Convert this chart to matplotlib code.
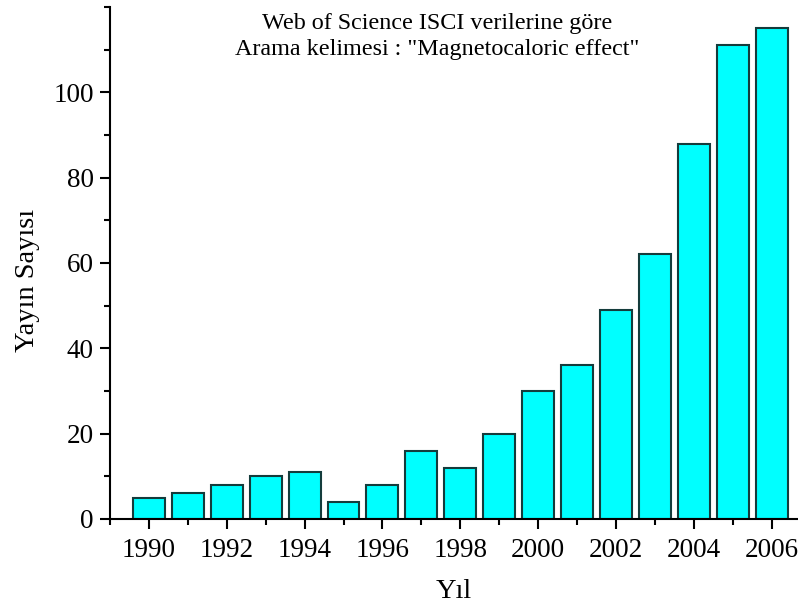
import matplotlib
matplotlib.use("Agg")
import matplotlib.pyplot as plt
from matplotlib.ticker import MultipleLocator

years = [1990, 1991, 1992, 1993, 1994, 1995, 1996, 1997, 1998,
         1999, 2000, 2001, 2002, 2003, 2004, 2005, 2006]
counts = [5, 6, 8, 10, 11, 4, 8, 16, 12, 20, 30, 36, 49, 62, 88, 111, 115]
xtick_years = [1990, 1992, 1994, 1996, 1998, 2000, 2002, 2004, 2006]
ytick_values = [0, 20, 40, 60, 80, 100]

plt.rcParams['font.family'] = ['Liberation Serif', 'DejaVu Serif']

fig = plt.figure(figsize=(7.98, 6.08), dpi=100)
ax = fig.add_axes([0.1378, 0.1464, 0.8610, 0.8421])

ax.bar(years, counts, width=0.82, color='#00FFFF', edgecolor='#143c3c',
       linewidth=1.5, zorder=2)

ax.set_xlim(1989, 2006.65)
ax.set_ylim(0, 120)

ax.set_xticks(xtick_years)
ax.set_yticks(ytick_values)
ax.xaxis.set_minor_locator(MultipleLocator(1))
ax.yaxis.set_minor_locator(MultipleLocator(10))

for side in ('top', 'right'):
    ax.spines[side].set_visible(False)
for side in ('left', 'bottom'):
    ax.spines[side].set_linewidth(1.5)

ax.tick_params(which='major', direction='out', length=7.5, width=1.5,
               labelsize=19.5, pad=4)
ax.tick_params(axis='x', which='major', pad=6)
ax.tick_params(which='minor', direction='out', length=4.5, width=1.5)

ax.set_xlabel('Yıl', fontsize=20.5, labelpad=12)
ax.set_ylabel('Yayın Sayısı', fontsize=20.5)
ax.yaxis.set_label_coords(-0.102, 0.465)

ax.text(0.476, 0.988, 'Web of Science ISCI verilerine göre\n'
        'Arama kelimesi : "Magnetocaloric effect"',
        transform=ax.transAxes, ha='center', va='top', fontsize=17.4,
        linespacing=1.33)

fig.savefig('out.png', dpi=100)
